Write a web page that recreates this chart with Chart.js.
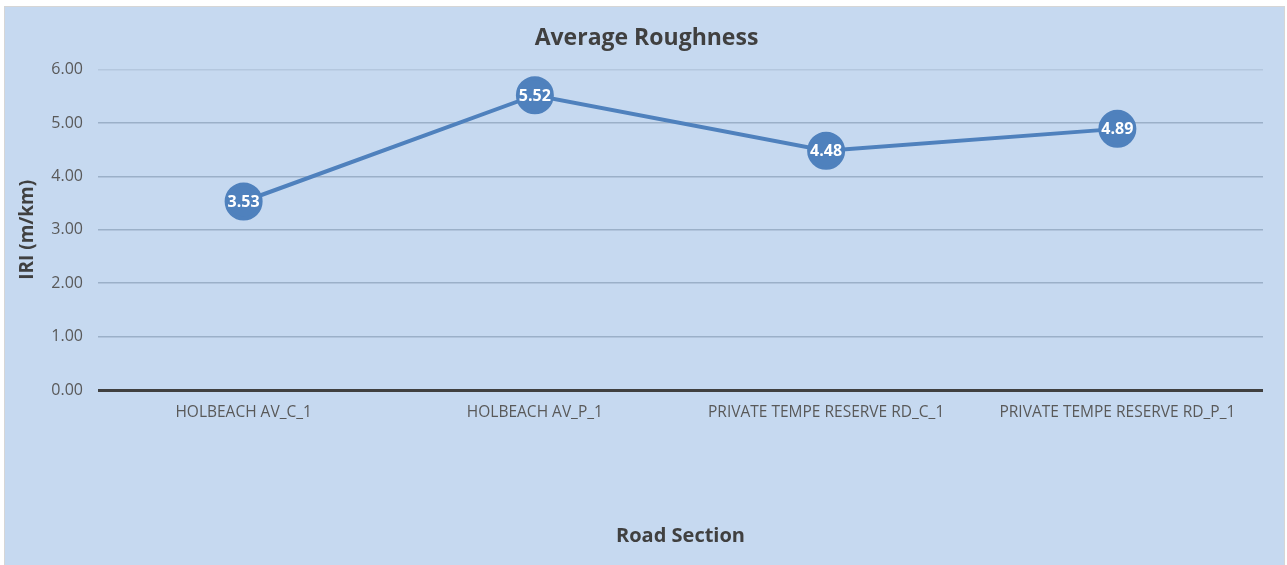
<!DOCTYPE html>
<html>
<head>
<meta charset="utf-8">
<script src="https://cdn.jsdelivr.net/npm/chart.js@4"></script>
<style>
  body { margin: 0; background: #fff; }
  #wrap { position: absolute; left: 4px; top: 6px; width: 1279px; height: 559px; border: 1px solid #d6d6d6; border-bottom: none; background: #c6d9f0; }
</style>
</head>
<body>
<div id="wrap"><canvas id="graficoRugosidad" width="1279" height="559"></canvas></div>
<script>
const secciones = ['HOLBEACH AV_C_1', 'HOLBEACH AV_P_1', 'PRIVATE TEMPE RESERVE RD_C_1', 'PRIVATE TEMPE RESERVE RD_P_1'];
const iriPromedio = [3.53, 5.52, 4.48, 4.89];
const ticksY = [0, 1, 2, 3, 4, 5, 6];

// etiquetas blancas dentro de los puntos
const etiquetasPuntos = {
    id: 'etiquetasPuntos',
    afterLayout(chart) {
        // centrar el título sobre todo el lienzo, no sólo hasta el padding derecho
        if (chart.titleBlock) chart.titleBlock.left += 23;
    },
    afterDatasetsDraw(chart) {
        const ctx = chart.ctx;
        const meta = chart.getDatasetMeta(0);
        ctx.save();
        ctx.fillStyle = '#ffffff';
        ctx.font = 'bold 16px "Open Sans"';
        ctx.textAlign = 'center';
        ctx.textBaseline = 'middle';
        meta.data.forEach((p, i) => {
            ctx.fillText(iriPromedio[i].toFixed(2), p.x, p.y + 1);
        });
        ctx.restore();
    }
};

const ctx = document.getElementById('graficoRugosidad').getContext('2d');
new Chart(ctx, {
    type: 'line',
    data: {
        labels: secciones,
        datasets: [{
            label: 'IRI',
            data: iriPromedio,
            borderColor: '#4f81bd',
            backgroundColor: '#4f81bd',
            pointBackgroundColor: '#4f81bd',
            pointBorderColor: '#4f81bd',
            borderWidth: 4,
            pointRadius: 17,
            pointHoverRadius: 17,
            tension: 0
        }]
    },
    plugins: [etiquetasPuntos],
    options: {
        responsive: false,
        animation: false,
        layout: { padding: { left: 0, right: 19, top: 0, bottom: 0 } },
        plugins: {
            legend: { display: false },
            tooltip: { enabled: false },
            title: {
                display: true,
                text: 'Average Roughness',
                color: '#404040',
                font: { family: 'Open Sans', size: 23, weight: 'bold' },
                padding: { top: 18, bottom: 17 }
            }
        },
        scales: {
            y: {
                min: 0,
                max: 6,
                afterBuildTicks: axis => { axis.ticks = ticksY.map(v => ({ value: v })); },
                afterFit: axis => { axis.width = 93; },
                border: { display: false },
                grid: {
                    drawTicks: false,
                    color: c => c.tick.value === 0 ? '#404040' : (c.tick.value === 6 ? '#b4c7de' : '#9bb0c8'),
                    lineWidth: c => c.tick.value === 0 ? 3 : 1.5
                },
                ticks: {
                    padding: 15,
                    color: '#595959',
                    font: { family: 'Open Sans', size: 16 },
                    callback: v => Number(v).toFixed(2)
                },
                title: {
                    display: true,
                    text: 'IRI (m/km)',
                    color: '#404040',
                    font: { family: 'Open Sans', size: 19, weight: 'bold' },
                    padding: { top: 11 }
                }
            },
            x: {
                offset: true,
                afterFit: axis => { axis.height = 176; },
                border: { display: false },
                grid: { display: false, drawTicks: false },
                ticks: {
                    padding: 13,
                    color: '#595959',
                    maxRotation: 0,
                    font: { family: 'Open Sans', size: 15.5 }
                },
                title: {
                    display: true,
                    text: 'Road Section',
                    color: '#404040',
                    font: { family: 'Open Sans', size: 20, weight: 'bold' },
                    padding: { bottom: 18 }
                }
            }
        }
    }
});
</script>
</body>
</html>
